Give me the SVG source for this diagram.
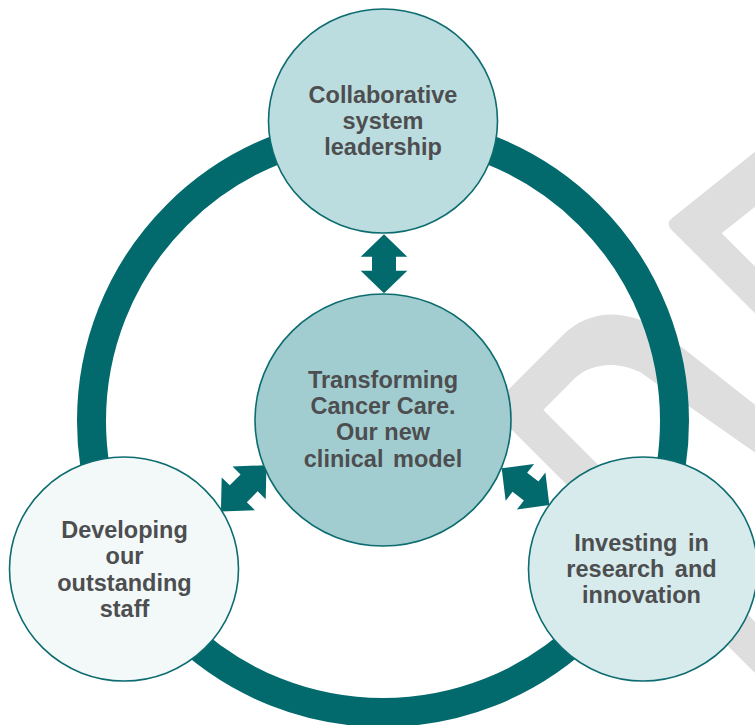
<svg xmlns="http://www.w3.org/2000/svg" width="755" height="725" viewBox="0 0 755 725">
  <style>
    .wm { fill: #dedede; }
    .ring { fill: none; stroke: #026a6d; stroke-width: 29; }
    .arrow { fill: #026a6d; }
    .node { stroke: #0c6c70; stroke-width: 1.6; }
    .label { font-family: "Liberation Sans", Arial, sans-serif; font-weight: bold; font-size: 23.5px; fill: #4d4e50; text-anchor: middle; }
  </style>
  <defs>
    <!-- double-headed block arrow, laid along the x axis, 59px tip to tip -->
    <path id="dbl-arrow" d="M-29.5,0 L-7,-23.3 L-7,-12 L7,-12 L7,-23.3 L29.5,0 L7,23.3 L7,12 L-7,12 L-7,23.3 Z"/>
  </defs>

  <rect width="755" height="725" fill="#ffffff"/>

  <!-- pale background mark at the right edge -->
  <g id="watermark">
    <path class="wm" d="M800,115.7 L672.2,217.9 Q665.2,223.5 671.6,229.9 L800,358.3 L800,311.6 L721.7,233.3 L800,170.7 Z"/>
    <path class="wm" d="M490,408 L565,333 C590,310 625,308 660,330 L800,440 L800,484 L640,372 C615,360 590,364 575,378 L543.3,410 L800,666.7 L800,718 Z"/>
  </g>

  <g id="connectors">
    <circle class="ring" cx="383" cy="421" r="291.5"/>
    <use href="#dbl-arrow" class="arrow" transform="translate(384,263.8) rotate(90)"/>
    <use href="#dbl-arrow" class="arrow" transform="translate(243.7,488.3) rotate(-45.4) scale(1.1,1)"/>
    <use href="#dbl-arrow" class="arrow" transform="translate(525.5,486.7) rotate(37.6) scale(1.02,1)"/>
  </g>

  <g id="node-leadership">
    <ellipse class="node" cx="383" cy="121" rx="114.5" ry="112" fill="#bcdddf"/>
    <text class="label" x="383" y="102.7">Collaborative</text>
    <text class="label" x="383" y="128.7">system</text>
    <text class="label" x="383" y="154.7">leadership</text>
  </g>

  <g id="node-model">
    <ellipse class="node" cx="383" cy="420" rx="128" ry="126" fill="#a2cdd0"/>
    <text class="label" x="383" y="387.5">Transforming</text>
    <text class="label" x="383" y="414">Cancer Care.</text>
    <text class="label" x="383" y="440.3">Our new</text>
    <text class="label" x="383" y="466.5" word-spacing="3">clinical model</text>
  </g>

  <g id="node-staff">
    <ellipse class="node" cx="124" cy="569" rx="114.5" ry="112" fill="#f3f9f9"/>
    <text class="label" x="124.5" y="538.3">Developing</text>
    <text class="label" x="124.5" y="564.3">our</text>
    <text class="label" x="124.5" y="590.7">outstanding</text>
    <text class="label" x="124.5" y="616.7">staff</text>
  </g>

  <g id="node-research">
    <ellipse class="node" cx="643" cy="569" rx="114.5" ry="112" fill="#d7eaec"/>
    <text class="label" x="641.5" y="551" word-spacing="4">Investing in</text>
    <text class="label" x="641.5" y="576.7" word-spacing="4">research and</text>
    <text class="label" x="641.5" y="602.7">innovation</text>
  </g>
</svg>
